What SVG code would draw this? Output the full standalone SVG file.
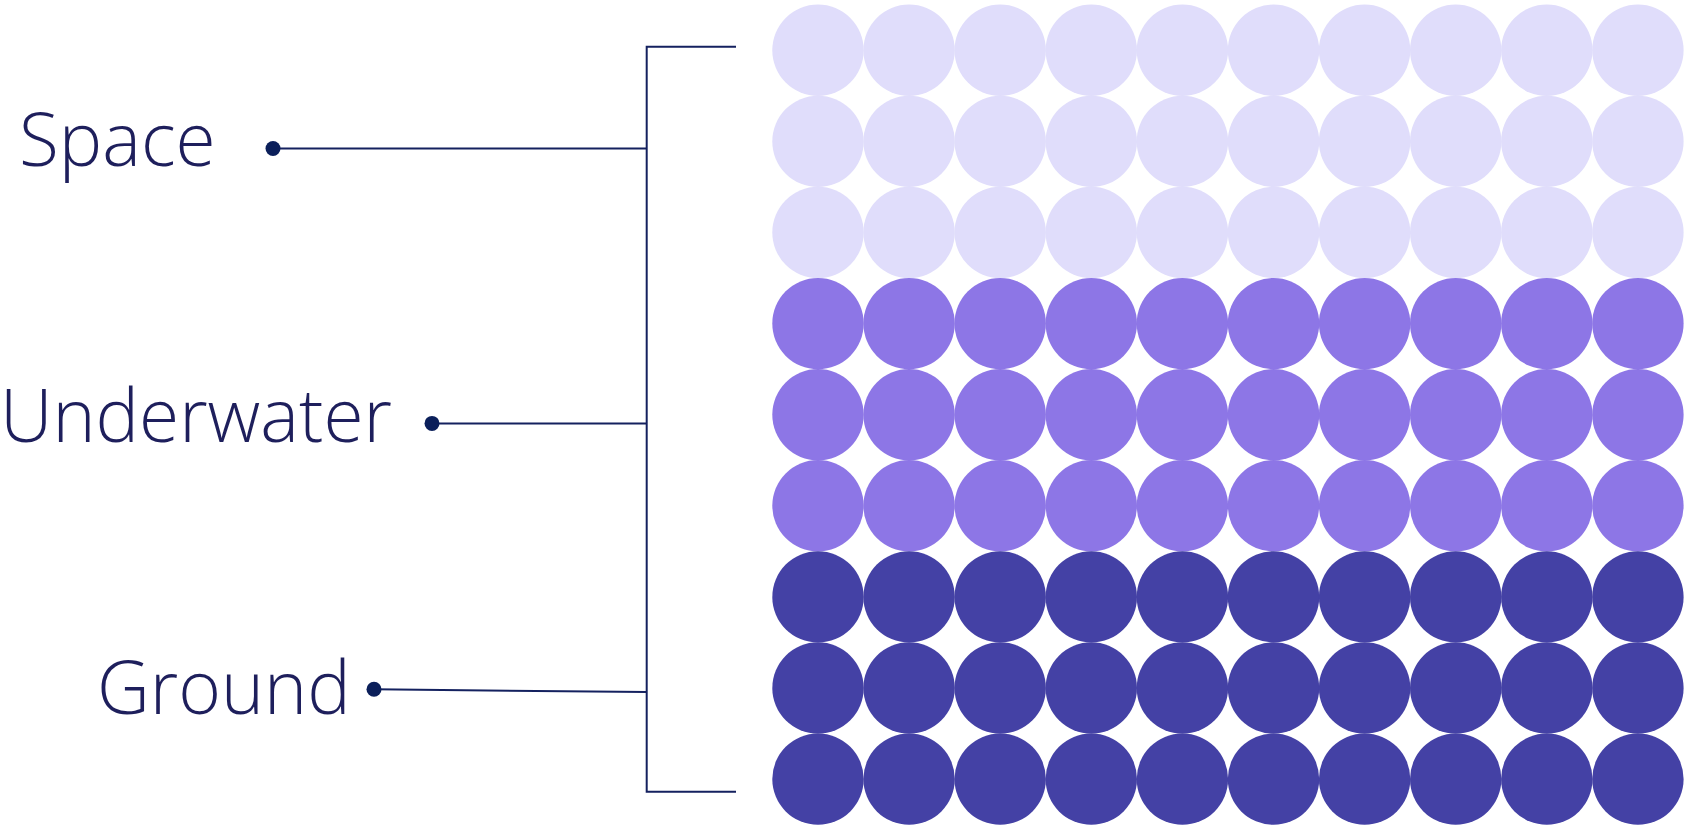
<svg xmlns="http://www.w3.org/2000/svg" width="1689" height="827" viewBox="0 0 1689 827">
<style>
.lbl{font-family:"Open Sans","Noto Sans","Liberation Sans",sans-serif;font-size:73px;font-weight:300;fill:#1e1f5c}
.dot{fill:#0b1f5a}
.ln{stroke:#14215f;stroke-width:2;fill:none}
.c1{fill:#e0ddfb}
.c2{fill:#8d76e6}
.c3{fill:#4441a5}
</style>
<defs>
<g id="row">
<circle cx="818" cy="0" r="45.7"/>
<circle cx="909.1" cy="0" r="45.7"/>
<circle cx="1000.2" cy="0" r="45.7"/>
<circle cx="1091.3" cy="0" r="45.7"/>
<circle cx="1182.4" cy="0" r="45.7"/>
<circle cx="1273.5" cy="0" r="45.7"/>
<circle cx="1364.6" cy="0" r="45.7"/>
<circle cx="1455.7" cy="0" r="45.7"/>
<circle cx="1546.8" cy="0" r="45.7"/>
<circle cx="1637.9" cy="0" r="45.7"/>
</g>
</defs>
<g id="grid">
<g id="space-layer" class="c1">
<use href="#row" y="50.3"/>
<use href="#row" y="141.4"/>
<use href="#row" y="232.5"/>
</g>
<g id="underwater-layer" class="c2">
<use href="#row" y="323.6"/>
<use href="#row" y="414.7"/>
<use href="#row" y="505.8"/>
</g>
<g id="ground-layer" class="c3">
<use href="#row" y="596.9"/>
<use href="#row" y="688"/>
<use href="#row" y="779.1"/>
</g>
</g>
<g id="connectors">
<path class="ln" d="M736 46.7H646.7V791.7H736"/>
<path class="ln" d="M273 148.5H646.7"/>
<path class="ln" d="M432 423.4H646.7"/>
<path class="ln" d="M374 689.3L646.7 692"/>
</g>
<g id="label-space">
<text class="lbl" x="19" y="166">Space</text>
<circle class="dot" cx="273" cy="148.5" r="7.5"/>
</g>
<g id="label-underwater">
<text class="lbl" x="0" y="442">Underwater</text>
<circle class="dot" cx="432" cy="423.4" r="7.5"/>
</g>
<g id="label-ground">
<text class="lbl" x="97" y="714">Ground</text>
<circle class="dot" cx="374" cy="689.3" r="7.5"/>
</g>
</svg>
